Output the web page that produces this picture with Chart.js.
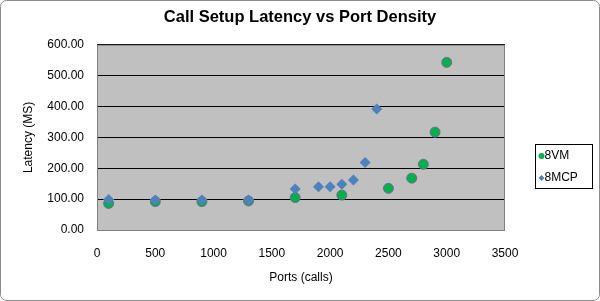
<!DOCTYPE html>
<html lang="en">
<head>
    <meta charset="UTF-8">
    <title>Call Setup Latency vs Port Density</title>
    <style>
        body { margin: 0; background: #fff; overflow: hidden; }
        #wrap { width: 600px; height: 301px; }
    </style>
    <script src="https://cdn.jsdelivr.net/npm/chart.js@4.4.1/dist/chart.umd.min.js"></script>
</head>
<body>
    <div id="wrap"><canvas id="myChart" width="600" height="301"></canvas></div>
    <script>
        // data
        var vmPorts = [100, 500, 900, 1300, 1700, 2100, 2500, 2700, 2800, 2900, 3000];
        var vmLatency = [86, 92, 92, 94, 105, 113, 135, 168, 213, 317, 543];
        var mcpPorts = [100, 500, 900, 1300, 1700, 1900, 2000, 2100, 2200, 2300, 2400];
        var mcpLatency = [99, 97, 97, 97, 133, 140, 140, 148, 162, 219, 392];
        var seriesNames = ["8VM", "8MCP"];

        function toXY(xs, ys) {
            return xs.map(function (x, i) { return { x: x, y: ys[i] }; });
        }

        var fontFam = "'Liberation Sans', Arial, sans-serif";

        // grey plot background, outer frame and boxed legend
        var decor = {
            id: 'decor',
            beforeDraw: function (chart) {
                var c = chart.ctx, a = chart.chartArea;
                c.save();
                c.fillStyle = "#C0C0C0";
                c.fillRect(a.left, a.top, a.right - a.left, a.bottom - a.top);
                c.restore();
            },
            afterDraw: function (chart) {
                var c = chart.ctx, a = chart.chartArea;
                c.save();
                c.strokeStyle = "#808080";
                c.lineWidth = 1;
                c.strokeRect(a.left + 0.5, a.top + 0.5, a.right - a.left - 1, a.bottom - a.top);
                c.strokeStyle = "#8c8c8c";
                c.beginPath();
                c.roundRect(0.5, 0.5, 599, 300, 6);
                c.stroke();

                // legend
                var lx = 535, ly = 144, lw = 57, lh = 44;
                c.fillStyle = "#fff";
                c.fillRect(lx, ly, lw, lh);
                c.strokeStyle = "#000";
                c.strokeRect(lx + 0.5, ly + 0.5, lw, lh);
                c.font = "12px " + fontFam;
                c.textBaseline = "middle";
                chart.data.datasets.forEach(function (ds, i) {
                    var cy = ly + 12 + i * 22;
                    c.fillStyle = ds.backgroundColor;
                    c.strokeStyle = ds.backgroundColor;
                    Chart.helpers.drawPoint(c, { pointStyle: ds.pointStyle, radius: 3, borderWidth: 0 }, lx + 6.5, cy);
                    c.fillStyle = "#000";
                    c.fillText(seriesNames[i], lx + 9.5, cy);
                });
                c.restore();
            }
        };

        var ctx = document.getElementById("myChart").getContext('2d');
        var myChart = new Chart(ctx, {
            type: 'scatter',
            data: {
                datasets: [{
                    label: seriesNames[0],
                    data: toXY(vmPorts, vmLatency),
                    order: 2,
                    pointStyle: 'circle',
                    pointRadius: 5,
                    backgroundColor: "#00B050",
                    borderColor: "#7b6a8c",
                    borderWidth: 1
                }, {
                    label: seriesNames[1],
                    data: toXY(mcpPorts, mcpLatency),
                    order: 1,
                    pointStyle: 'rectRot',
                    pointRadius: 5.5,
                    backgroundColor: "#4F81BD",
                    borderColor: "#4F81BD",
                    borderWidth: 0
                }]
            },
            options: {
                responsive: false,
                animation: false,
                layout: { padding: { left: 0, right: 0, top: 0, bottom: 12 } },
                plugins: {
                    legend: { display: false },
                    tooltip: { enabled: false },
                    title: {
                        display: true,
                        text: "Call Setup Latency vs Port Density",
                        color: "#000",
                        font: { family: fontFam, size: 16.5, weight: 'bold' },
                        padding: { top: 8, bottom: 17 }
                    }
                },
                scales: {
                    x: {
                        type: 'linear',
                        min: 0,
                        max: 3500,
                        afterFit: function (s) { s.height = 59; },
                        grid: { display: false, drawTicks: false },
                        border: { display: false },
                        ticks: {
                            stepSize: 500,
                            color: "#000",
                            padding: 16,
                            font: { family: fontFam, size: 12 },
                            callback: function (v) { return String(v); }
                        },
                        title: {
                            display: true,
                            text: "Ports (calls)",
                            color: "#000",
                            font: { family: fontFam, size: 12 },
                            padding: { top: 8 }
                        }
                    },
                    y: {
                        min: 0,
                        max: 600,
                        afterFit: function (s) { s.width = 97; },
                        grid: { color: "#000", lineWidth: 1, drawTicks: false },
                        border: { display: false },
                        ticks: {
                            stepSize: 100,
                            color: "#000",
                            padding: 13,
                            font: { family: fontFam, size: 12 },
                            callback: function (v) { return v.toFixed(2); }
                        },
                        title: {
                            display: true,
                            text: "Latency (MS)",
                            color: "#000",
                            font: { family: fontFam, size: 12 },
                            padding: { top: 21, bottom: 0 }
                        }
                    },
                    // empty right axis only reserves the legend column
                    legendSpace: {
                        position: 'right',
                        afterFit: function (s) { s.width = 95; },
                        grid: { display: false, drawTicks: false },
                        border: { display: false },
                        ticks: { display: false }
                    }
                }
            },
            plugins: [decor]
        });
    </script>
</body>
</html>
